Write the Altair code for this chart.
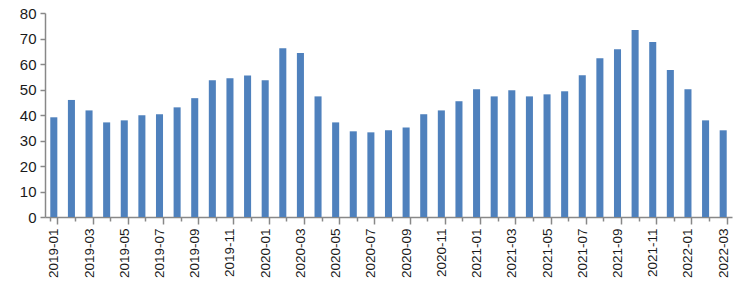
import altair as alt
import pandas as pd

months = [f"{y}-{m:02d}" for y in (2019, 2020, 2021) for m in range(1, 13)] + ["2022-01", "2022-02", "2022-03"]
values = [
    39.1, 45.9, 41.8, 37.1, 37.9, 39.9, 40.3, 43.0, 46.6, 53.6, 54.4, 55.5,
    53.6, 66.2, 64.3, 47.3, 37.1, 33.6, 33.2, 34.0, 35.1, 40.3, 41.8, 45.4,
    50.1, 47.3, 49.7, 47.3, 48.1, 49.3, 55.6, 62.3, 65.8, 73.3, 68.6, 57.6,
    50.1, 37.9, 34.0,
]
df = pd.DataFrame({"month": months, "value": values})

font = "Liberation Sans"
odd = "parseInt(substring(datum.value, 5, 7)) % 2 == 1"
chart = (
    alt.Chart(df)
    .mark_bar(color="#4F81BD")
    .encode(
        x=alt.X(
            "month:N",
            sort=None,
            title=None,
            scale=alt.Scale(paddingInner=0.6, paddingOuter=0.3),
            axis=alt.Axis(
                labelAngle=270,
                labelExpr="parseInt(substring(datum.label, 5, 7)) % 2 == 1 ? datum.label : ''",
                tickBand="extent",
                tickSize={"condition": {"test": odd, "value": 7}, "value": 4},
                tickColor="#888888",
                tickWidth=1.5,
                domainColor="#888888",
                domainWidth=1.5,
                labelFont=font,
                labelFontSize=13.5,
                labelColor="#1a1a1a",
                labelPadding=4,
                labelAlign="right",
                labelBaseline="middle",
            ),
        ),
        y=alt.Y(
            "value:Q",
            title=None,
            scale=alt.Scale(domain=[0, 80]),
            axis=alt.Axis(
                values=list(range(0, 81, 10)),
                grid=False,
                tickSize=5,
                tickColor="#888888",
                tickWidth=1.5,
                domainColor="#888888",
                domainWidth=1.5,
                labelFont=font,
                labelFontSize=15,
                labelColor="#1a1a1a",
                labelPadding=4,
            ),
        ),
    )
    .properties(
        width=687,
        height=204,
        autosize=alt.AutoSizeParams(type="none"),
        padding={"left": 45, "top": 13, "right": 8, "bottom": 79},
    )
    .configure_view(stroke=None)
)

chart.save("out.html", embed_options={"renderer": "svg", "actions": False})
